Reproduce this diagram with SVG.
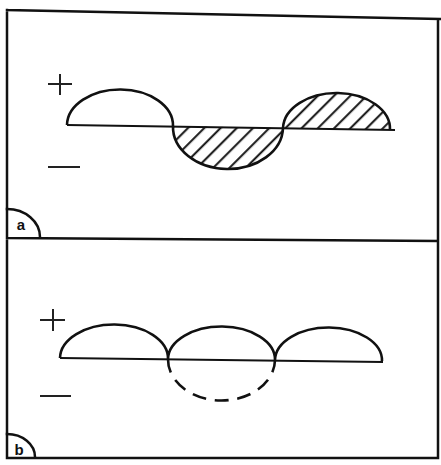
<svg xmlns="http://www.w3.org/2000/svg" width="441" height="465" viewBox="0 0 441 465">
<style>
.frame{fill:none;stroke:#111;stroke-width:2.5;stroke-linecap:square}
.base{fill:none;stroke:#111;stroke-width:1.8}
.wave{fill:none;stroke:#111;stroke-width:2.6}
.sign{fill:none;stroke:#222;stroke-width:2}
.lbl{font-family:"Liberation Sans",Arial,sans-serif;font-weight:bold;font-size:15px;fill:#111}
</style>
<defs>
<pattern id="hatch" width="11.5" height="11.5" patternUnits="userSpaceOnUse" patternTransform="rotate(45)">
<line x1="5" y1="-1" x2="5" y2="13" stroke="#111" stroke-width="2"/>
</pattern>
</defs>
<rect width="441" height="465" fill="#fff"/>
<g id="frame">
<path class="frame" d="M7,10 L440,19 M7,10 L7,458 M438,19 L438,458 M7,458 L438,458 M7,238 L438,241"/>
</g>
<g id="panel-a">
<path d="M173,126 A55,42 0 0 0 283,128 Z" fill="url(#hatch)"/>
<path d="M283,128 A53.5,36 0 0 1 390,130 Z" fill="url(#hatch)"/>
<line class="base" x1="67" y1="125" x2="395" y2="130"/>
<path class="wave" d="M67,125 A53,36 0 0 1 173,126 A55,42 0 0 0 283,128 A53.5,36 0 0 1 390,130"/>
<path class="sign" d="M48,84 L72,84 M60,74 L60,95"/>
<path class="sign" d="M48,167 L80,167"/>
<path class="frame" d="M7,209 A33,28 0 0 1 40,237" stroke-width="2"/>
<text class="lbl" x="21" y="230" text-anchor="middle">a</text>
</g>
<g id="panel-b">
<line class="base" x1="60" y1="358" x2="383" y2="362"/>
<path class="wave" d="M60,358 A54,34 0 0 1 168,359 A53.5,33 0 0 1 275,360 A53.5,33 0 0 1 382,361"/>
<path class="wave" d="M168,359 A53.5,41 0 0 0 275,360" stroke-dasharray="14 8.7"/>
<path class="sign" d="M40,320 L65,320 M53,309 L53,331"/>
<path class="sign" d="M40,396 L71,396"/>
<path class="frame" d="M7,434 A28,23 0 0 1 35,457" stroke-width="2"/>
<text class="lbl" x="19" y="455" text-anchor="middle">b</text>
</g>
</svg>
